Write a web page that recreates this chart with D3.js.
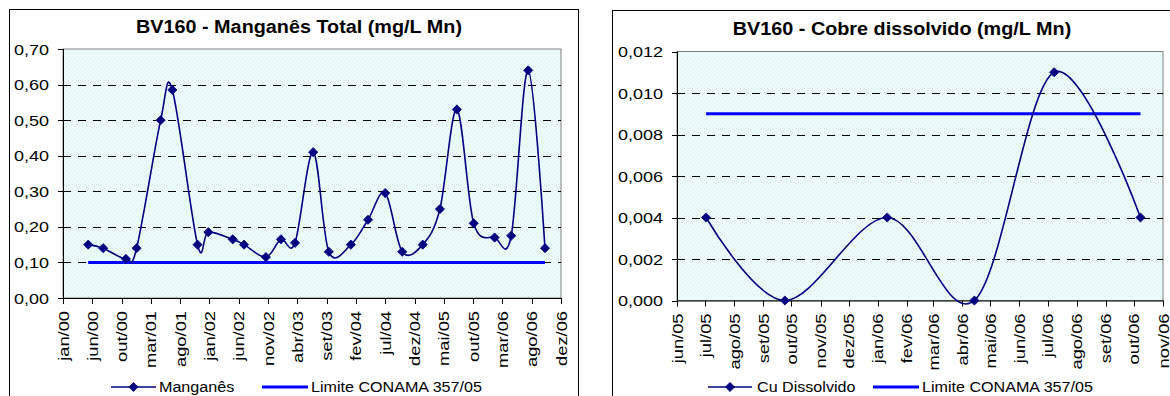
<!DOCTYPE html>
<html>
<head>
<meta charset="utf-8">
<script src="https://cdn.jsdelivr.net/npm/d3@7"></script>
<style>
  html, body { margin: 0; padding: 0; background: #ffffff; }
  svg { display: block; }
  text { font-family: "Liberation Sans", Arial, sans-serif; fill: #000; }
</style>
</head>
<body>
<svg id="chart" width="1170" height="396"></svg>
<script>
// ---------- DATA ----------
const monthNamesPt = ["jan","fev","mar","abr","mai","jun","jul","ago","set","out","nov","dez"];

// Chart 1: Manganês Total
const mnDates = ["2000-05-13","2000-07-29","2000-11-22","2001-01-16","2001-05-19","2001-07-18",
  "2001-11-24","2002-01-18","2002-05-23","2002-07-20","2002-11-09","2003-01-25","2003-04-07",
  "2003-07-09","2003-09-27","2004-01-18","2004-04-15","2004-07-12","2004-10-07","2005-01-20",
  "2005-04-18","2005-07-14","2005-10-08","2006-01-23","2006-04-18","2006-07-14","2006-10-08"];
const mnValues = [0.15,0.14,0.11,0.14,0.50,0.585,0.15,0.185,0.165,0.15,0.115,0.165,0.155,
  0.41,0.13,0.15,0.22,0.295,0.13,0.15,0.25,0.53,0.21,0.17,0.175,0.64,0.14];
const mnLimit = 0.10;
const mnTitle = "BV160 - Manganês Total (mg/L Mn)";
const mnSeriesName = "Manganês";
const mnYTicks = [0, 0.1, 0.2, 0.3, 0.4, 0.5, 0.6, 0.7];
const mnXStart = "2000-01-05";
const mnXStepDays = 150;
const mnXTickCount = 18;

// Chart 2: Cobre dissolvido
const cuDates = ["2005-07-02","2005-09-24","2006-01-11","2006-04-14","2006-07-08","2006-10-08"];
const cuValues = [0.004, 0.000, 0.004, 0.000, 0.011, 0.004];
const cuLimit = 0.009;
const cuTitle = "BV160 - Cobre dissolvido (mg/L Mn)";
const cuSeriesName = "Cu Dissolvido";
const cuYTicks = [0, 0.002, 0.004, 0.006, 0.008, 0.010, 0.012];
const cuXStart = "2005-06-01";
const cuXEnd = "2006-11-01";

const limitName = "Limite CONAMA 357/05";

// ---------- HELPERS ----------
const parse = d3.timeParse("%Y-%m-%d");
const fmtMonth = d => monthNamesPt[d.getMonth()] + "/" + d3.timeFormat("%y")(d);
const NAVY = "#000080", BLUE = "#0000FF";
const svg = d3.select("#chart");

function stretch(sel, k) {
  sel.each(function() {
    const w = this.getComputedTextLength();
    d3.select(this).attr("textLength", w * k).attr("lengthAdjust", "spacingAndGlyphs");
  });
}
const diamond = "M0,-4.6L4.6,0L0,4.6L-4.6,0Z";

function drawChart(cfg) {
  const g = svg.append("g");
  // outer box
  g.append("rect").attr("x", cfg.box[0] + 0.5).attr("y", cfg.box[1] + 0.5)
    .attr("width", cfg.box[2]).attr("height", cfg.box[3])
    .attr("fill", "#fff").attr("stroke", "#000").attr("stroke-width", 1);

  const x = cfg.x, y = cfg.y;
  const [x0, x1] = x.range();
  const [yb, yt] = y.range();

  // plot background
  g.append("rect").attr("x", x0).attr("y", yt).attr("width", x1 - x0).attr("height", yb - yt)
    .attr("fill", "url(#bgpat)").attr("stroke", "#808080").attr("stroke-width", 1);

  // gridlines
  g.append("g").selectAll("line").data(cfg.yTicks.filter(v => v > 0 && y(v) > yt + 1))
    .join("line")
    .attr("x1", x0).attr("x2", x1)
    .attr("y1", d => Math.round(y(d)) + 0.5).attr("y2", d => Math.round(y(d)) + 0.5)
    .attr("stroke", "#000").attr("stroke-width", 1).attr("stroke-dasharray", "8,7");

  // y axis
  const ya = g.append("g");
  ya.append("line").attr("x1", x0 + 0.5).attr("x2", x0 + 0.5).attr("y1", yt).attr("y2", yb)
    .attr("stroke", "#000");
  ya.selectAll("line.t").data(cfg.yTicks).join("line").attr("class", "t")
    .attr("x1", x0 - 5).attr("x2", x0 + 0.5)
    .attr("y1", d => Math.round(y(d)) + 0.5).attr("y2", d => Math.round(y(d)) + 0.5)
    .attr("stroke", "#000");
  const yl = ya.selectAll("text").data(cfg.yTicks).join("text")
    .attr("x", x0 - 14).attr("y", d => y(d) + 5.5)
    .attr("text-anchor", "end").attr("font-size", 15)
    .text(cfg.yFmt);
  stretch(yl, 1.2);

  // x axis
  const xa = g.append("g");
  xa.append("line").attr("x1", x0).attr("x2", x1 + 0.5).attr("y1", yb + 0.5).attr("y2", yb + 0.5)
    .attr("stroke", "#000");
  xa.selectAll("line.t").data(cfg.xTicks).join("line").attr("class", "t")
    .attr("x1", d => Math.round(x(d)) + 0.5).attr("x2", d => Math.round(x(d)) + 0.5)
    .attr("y1", yb).attr("y2", yb + 6)
    .attr("stroke", "#000");
  const xl = xa.selectAll("text").data(cfg.xTicks).join("text")
    .attr("transform", d => `translate(${x(d) + 5.5},${yb + 13}) rotate(-90)`)
    .attr("text-anchor", "end").attr("font-size", 15)
    .text(fmtMonth);
  stretch(xl, 1.22);

  // limit line
  const pts = cfg.dates.map((d, i) => ({ d: parse(d), v: cfg.values[i] }));
  const limPts = pts.map(p => ({ d: p.d, v: cfg.limit }));
  g.append("path").datum(limPts)
    .attr("d", d3.line().x(p => x(p.d)).y(p => y(p.v)))
    .attr("fill", "none").attr("stroke", BLUE).attr("stroke-width", 3);

  // data line (smoothed)
  g.append("path").datum(pts)
    .attr("d", d3.line().x(p => x(p.d)).y(p => y(p.v)).curve(d3.curveCardinal.tension(0)))
    .attr("fill", "none").attr("stroke", NAVY).attr("stroke-width", 1.6);
  g.append("g").selectAll("path").data(pts).join("path")
    .attr("d", diamond)
    .attr("transform", p => `translate(${x(p.d)},${y(p.v)})`)
    .attr("fill", NAVY).attr("stroke", NAVY).attr("stroke-width", 0.8);

  // title
  const t = g.append("text").attr("x", cfg.titleX).attr("y", cfg.titleY)
    .attr("text-anchor", "middle").attr("font-size", 18).attr("font-weight", "bold")
    .text(cfg.title);
  stretch(t, 1.1);

  // legend
  const L = cfg.legend;
  g.append("line").attr("x1", L.s1[0]).attr("x2", L.s1[1]).attr("y1", L.y).attr("y2", L.y)
    .attr("stroke", NAVY).attr("stroke-width", 1.6);
  g.append("path").attr("d", diamond)
    .attr("transform", `translate(${(L.s1[0] + L.s1[1]) / 2},${L.y})`)
    .attr("fill", NAVY).attr("stroke", NAVY).attr("stroke-width", 0.8);
  const lt1 = g.append("text").attr("x", L.t1).attr("y", L.y + 5).attr("font-size", 14)
    .text(cfg.seriesName);
  stretch(lt1, 1.15);
  g.append("line").attr("x1", L.s2[0]).attr("x2", L.s2[1]).attr("y1", L.y).attr("y2", L.y)
    .attr("stroke", BLUE).attr("stroke-width", 3);
  const lt2 = g.append("text").attr("x", L.t2).attr("y", L.y + 5).attr("font-size", 14)
    .text(limitName);
  stretch(lt2, 1.15);
}

// background pattern
const defs = svg.append("defs");
const pat = defs.append("pattern").attr("id", "bgpat").attr("patternUnits", "userSpaceOnUse")
  .attr("width", 4).attr("height", 4);
pat.append("rect").attr("width", 4).attr("height", 4).attr("fill", "#EEFBFB");
pat.append("rect").attr("x", 0).attr("y", 0).attr("width", 1).attr("height", 1).attr("fill", "#D2EEEE");
pat.append("rect").attr("x", 2).attr("y", 2).attr("width", 1).attr("height", 1).attr("fill", "#D2EEEE");

// ---------- CHART 1 ----------
const mnStart = parse(mnXStart);
const mnTicks = d3.range(mnXTickCount).map(k => d3.timeDay.offset(mnStart, k * mnXStepDays));
const mnX = d3.scaleTime().domain([mnTicks[0], mnTicks[mnTicks.length - 1]]).range([63, 561]);
const mnY = d3.scaleLinear().domain([0, 0.7]).range([298, 49]);
drawChart({
  box: [9, 9, 569, 400],
  x: mnX, y: mnY, xTicks: mnTicks, yTicks: mnYTicks,
  yFmt: v => d3.format(".2f")(v).replace(".", ","),
  dates: mnDates, values: mnValues, limit: mnLimit,
  title: mnTitle, titleX: 299, titleY: 33, seriesName: mnSeriesName,
  legend: { y: 387, s1: [111, 156], t1: 159, s2: [262, 308], t2: 311 }
});

// ---------- CHART 2 ----------
const cuX = d3.scaleTime().domain([parse(cuXStart), parse(cuXEnd)]).range([677, 1163]);
const cuY = d3.scaleLinear().domain([0, 0.012]).range([300.5, 51.5]);
drawChart({
  box: [612, 10, 568, 400],
  x: cuX, y: cuY, xTicks: cuX.ticks(d3.timeMonth.every(1)), yTicks: cuYTicks,
  yFmt: v => d3.format(".3f")(v).replace(".", ","),
  dates: cuDates, values: cuValues, limit: cuLimit,
  title: cuTitle, titleX: 902, titleY: 35, seriesName: cuSeriesName,
  legend: { y: 387, s1: [708, 752], t1: 757, s2: [873, 919], t2: 922 }
});
</script>
</body>
</html>
